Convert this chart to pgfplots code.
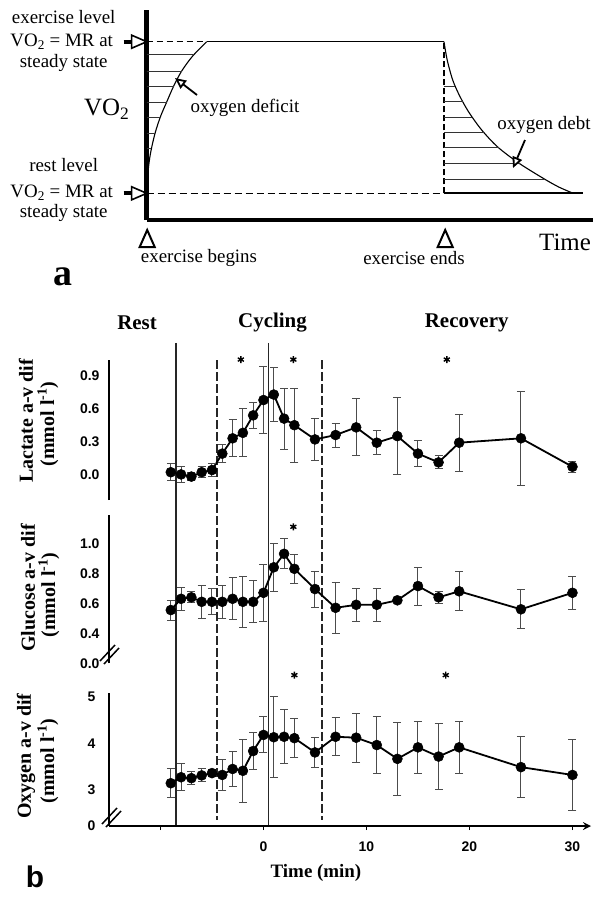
\documentclass[border=0pt]{standalone}
\usepackage{fontspec}
\setmainfont{Liberation Serif}
\setsansfont{Liberation Sans}
\usepackage{pgfplots}
\pgfplotsset{compat=1.18}
\usetikzlibrary{arrows.meta}

\pgfplotsset{
  panelb/.style={
    scale only axis, width=482bp, xmin=-15, xmax=31.8,
    axis y line=left,
    axis line style={line width=2.5bp, -},
    major tick length=0pt,
    yticklabel style={font=\sffamily\bfseries\fontsize{14}{16}\selectfont, xshift=-6bp},
    clip=false,
  },
  series/.style={black, line width=1.8bp, mark=*, mark size=5bp,
    mark options={solid, fill=black, line width=0.5bp},
    error bars/y dir=both, error bars/y explicit,
    error bars/error mark=-,
    error bars/error bar style={line width=1bp, black!70, solid},
    error bars/error mark options={rotate=90, mark size=4bp, line width=1bp, black!70}},
  stars/.style={only marks, mark=asterisk, mark size=3.5bp, line width=1.4bp, black},
  phase/.style={black!85, line width=1.2bp},
  phasedash/.style={black!85, line width=1.4bp, dash pattern=on 9bp off 3bp},
  thin/.style={black, line width=1.1bp},
  hatch/.style={black!80, line width=0.8bp},
}

\newcommand{\lbl}{\fontsize{19}{21}\selectfont}
\newcommand{\blbl}{\bfseries\fontsize{20}{22}\selectfont}

\begin{document}
\begin{tikzpicture}
\path[use as bounding box] (0bp,0bp) rectangle (598bp,-897bp);

% ---------------- panel a ----------------
\begin{axis}[at={(146.7bp,-220bp)}, anchor=south west, scale only axis,
  width=446.3bp, height=210bp, xmin=0, xmax=446.3, ymin=0, ymax=210,
  axis lines=left, axis line style={line width=4.5bp, -}, ticks=none, clip=false]
% levels
\addplot[thin, dash pattern=on 6bp off 4bp] coordinates {(0,178.3) (60,178.3)};
\addplot[thin] coordinates {(60,178.3) (297.3,178.3)};
\addplot[thin, dash pattern=on 7bp off 4bp] coordinates {(0,26.7) (297.3,26.7)};
\addplot[black, line width=2bp] coordinates {(297.3,26.7) (436.3,26.7)};
\addplot[thin, dash pattern=on 6bp off 3bp] coordinates {(297.3,26.7) (297.3,178.3)};
% deficit curve
\addplot[thin, smooth] coordinates {(0,26.7) (1,45) (3,62) (5.5,75) (9,89) (14,104)
  (20,118) (27,134) (35,149) (46,164) (60,178.3)};
% recovery curve
\addplot[thin, smooth] coordinates {(297.3,178.3) (300.5,160) (306,140) (313,124)
  (322,108) (335,90) (351,73) (372,57) (396,42) (412,33) (426.6,26.7)};
% hatching
\addplot[hatch, unbounded coords=jump] coordinates {
  (0,166) (47,166) (nan,nan) (0,149) (35,149) (nan,nan) (0,134) (27,134) (nan,nan)
  (0,118) (20,118) (nan,nan) (0,103) (13.7,103) (nan,nan) (0,87) (8.5,87) (nan,nan)
  (0,72) (4.7,72)};
\addplot[hatch, unbounded coords=jump] coordinates {
  (297.3,134) (308.5,134) (nan,nan) (297.3,119) (316,119) (nan,nan)
  (297.3,102.7) (325.5,102.7) (nan,nan) (297.3,87.3) (337,87.3) (nan,nan)
  (297.3,72.3) (352,72.3) (nan,nan) (297.3,56.7) (373,56.7) (nan,nan)
  (297.3,41) (397,41)};
% level arrows
\draw[line width=4bp] (axis cs:-23,178.3) -- (axis cs:-15,178.3);
\draw[line width=1.6bp, fill=white] (axis cs:-15,184.8) -- (axis cs:0,178.3) -- (axis cs:-15,171.8) -- cycle;
\draw[line width=4bp] (axis cs:-23,26.7) -- (axis cs:-15,26.7);
\draw[line width=1.6bp, fill=white] (axis cs:-15,33.2) -- (axis cs:0,26.7) -- (axis cs:-15,20.2) -- cycle;
% deficit / debt arrows
\draw[line width=1.8bp, -{Triangle[length=11bp, width=10bp, fill=white]}] (axis cs:50.3,125) -- (axis cs:28.3,142);
\draw[line width=1.8bp, -{Triangle[length=11bp, width=10bp, fill=white]}] (axis cs:378.3,80) -- (axis cs:366.3,52);
% event triangles
\draw[line width=2bp] (axis cs:-7,-27) -- (axis cs:8,-27) -- (axis cs:0.5,-10) -- cycle;
\draw[line width=2bp] (axis cs:291,-27) -- (axis cs:306,-27) -- (axis cs:298.5,-10) -- cycle;
% texts
\node[font=\lbl] at (axis cs:-83,203) {exercise level};
\node[font=\lbl] at (axis cs:-85,178) {VO\textsubscript{2} = MR at};
\node[font=\lbl] at (axis cs:-83,157) {steady state};
\node[font=\lbl] at (axis cs:-83,55) {rest level};
\node[font=\lbl] at (axis cs:-85,27) {VO\textsubscript{2} = MR at};
\node[font=\lbl] at (axis cs:-83,7) {steady state};
\node[font=\fontsize{25}{27}\selectfont] at (axis cs:-40,111) {VO\textsubscript{2}};
\node[font=\lbl] at (axis cs:98.3,112) {oxygen deficit};
\node[font=\lbl] at (axis cs:397.3,95) {oxygen debt};
\node[font=\lbl] at (axis cs:52.3,-38) {exercise begins};
\node[font=\lbl] at (axis cs:267.3,-38) {exercise ends};
\node[font=\fontsize{25}{27}\selectfont] at (axis cs:418.3,-22) {Time};
\node[font=\bfseries\fontsize{38}{40}\selectfont] at (axis cs:-83.7,-57) {a};
\end{axis}

% ---------------- panel b: lactate ----------------
\begin{axis}[panelb, axis x line=none, at={(109bp,-500bp)}, anchor=south west, height=140bp,
  ymin=-0.234, ymax=1.046, ytick={0,0.3,0.6,0.9}, yticklabels={0.0,0.3,0.6,0.9}]
% phase lines spanning all three panels
\addplot[phase] coordinates {(-8.5,1.202) (-8.5,-3.217)};
\addplot[phase] coordinates {(0.5,1.202) (0.5,-3.217)};
\addplot[phasedash] coordinates {(-4.5,1.046) (-4.5,-3.16)};
\addplot[phasedash] coordinates {(5.7,1.046) (5.7,-3.16)};
\addplot[series] table[x=t, y=v, y error=e] {
t v e
-9 0.02 0.08
-8 0.00 0.07
-7 -0.02 0.04
-6 0.02 0.05
-5 0.04 0.06
-4 0.19 0.08
-3 0.33 0.17
-2 0.38 0.22
-1 0.54 0.12
0 0.68 0.31
1 0.73 0.25
2 0.51 0.28
3 0.45 0.34
5 0.32 0.19
7 0.36 0.11
9 0.43 0.26
11 0.29 0.11
13 0.35 0.35
15 0.19 0.12
17 0.11 0.06
19 0.29 0.26
25 0.33 0.43
30 0.07 0.05
};
\addplot[stars] coordinates {(-2.2,1.05) (2.9,1.05) (17.8,1.05)};
\end{axis}

% ---------------- panel b: glucose ----------------
\begin{axis}[panelb, axis x line=none, at={(109bp,-663.3bp)}, anchor=south west, height=148.5bp,
  ymin=0.2, ymax=1.19, ytick={0.2,0.4,0.6,0.8,1.0}, yticklabels={0.0,0.4,0.6,0.8,1.0}]
\addplot[series] table[x=t, y=v, y error=e] {
t v e
-9 0.555 0.067
-8 0.63 0.078
-7 0.64 0.036
-6 0.61 0.11
-5 0.61 0.087
-4 0.61 0.11
-3 0.63 0.14
-2 0.61 0.17
-1 0.61 0.14
0 0.67 0.19
1 0.84 0.16
2 0.93 0.10
3 0.83 0.095
5 0.695 0.12
7 0.57 0.17
9 0.59 0.11
11 0.59 0.11
13 0.62 0.01
15 0.715 0.127
17 0.64 0.04
19 0.68 0.13
25 0.56 0.13
30 0.67 0.11
};
\addplot[stars] coordinates {(2.9,1.11)};
\end{axis}

% ---------------- panel b: oxygen ----------------
\begin{axis}[panelb, at={(109bp,-826bp)}, anchor=south west, height=133.4bp,
  ymin=2.2, ymax=5.1, ytick={2.2,3,4,5}, yticklabels={0,3,4,5},
  axis x line=bottom, xtick={-10,0,10,20,30}, xticklabels={,0,10,20,30},
  major tick length=4bp, tick align=outside, ytick style={draw=none},
  xtick style={black, line width=1bp},
  xticklabel style={font=\sffamily\bfseries\fontsize{14}{16}\selectfont, yshift=-8bp}]
\addplot[series] table[x=t, y=v, y error=e] {
t v e
-9 3.13 0.31
-8 3.26 0.29
-7 3.24 0.14
-6 3.30 0.14
-5 3.35 0.08
-4 3.31 0.34
-3 3.44 0.39
-2 3.40 0.68
-1 3.83 0.41
0 4.18 0.39
1 4.13 0.88
2 4.14 0.59
3 4.11 0.42
5 3.80 0.32
7 4.14 0.41
9 4.12 0.53
11 3.96 0.61
13 3.66 0.80
15 3.91 0.57
17 3.71 0.72
19 3.91 0.56
25 3.48 0.66
30 3.31 0.77
};
\addplot[stars] coordinates {(3,5.48) (17.7,5.48)};
\end{axis}

% axis breaks
\draw[line width=1.5bp] (100bp,-661bp) -- (115bp,-645bp);
\draw[line width=1.5bp] (104bp,-664bp) -- (119bp,-648bp);
\draw[line width=1.5bp] (102bp,-824bp) -- (117bp,-808bp);
\draw[line width=1.5bp] (106bp,-827bp) -- (121bp,-811bp);

% panel b labels
\node[font=\bfseries\fontsize{21}{23}\selectfont] at (137bp,-323bp) {Rest};
\node[font=\bfseries\fontsize{21}{23}\selectfont] at (272.5bp,-323bp) {Cycling};
\node[font=\bfseries\fontsize{21}{23}\selectfont] at (466.7bp,-323bp) {Recovery};
\node[font=\blbl, rotate=90] at (26bp,-421bp) {Lactate a-v dif};
\node[font=\blbl, rotate=90] at (48bp,-424bp) {(mmol l\textsuperscript{-1})};
\node[font=\blbl, rotate=90] at (28bp,-588bp) {Glucose a-v dif};
\node[font=\blbl, rotate=90] at (49bp,-595bp) {(mmol l\textsuperscript{-1})};
\node[font=\blbl, rotate=90] at (26bp,-756bp) {Oxygen a-v dif};
\node[font=\blbl, rotate=90] at (48bp,-761bp) {(mmol l\textsuperscript{-1})};
\node[font=\bfseries\fontsize{19}{21}\selectfont] at (316bp,-873bp) {Time (min)};
\node[font=\sffamily\bfseries\fontsize{30}{32}\selectfont] at (35bp,-877bp) {b};
\end{tikzpicture}
\end{document}
